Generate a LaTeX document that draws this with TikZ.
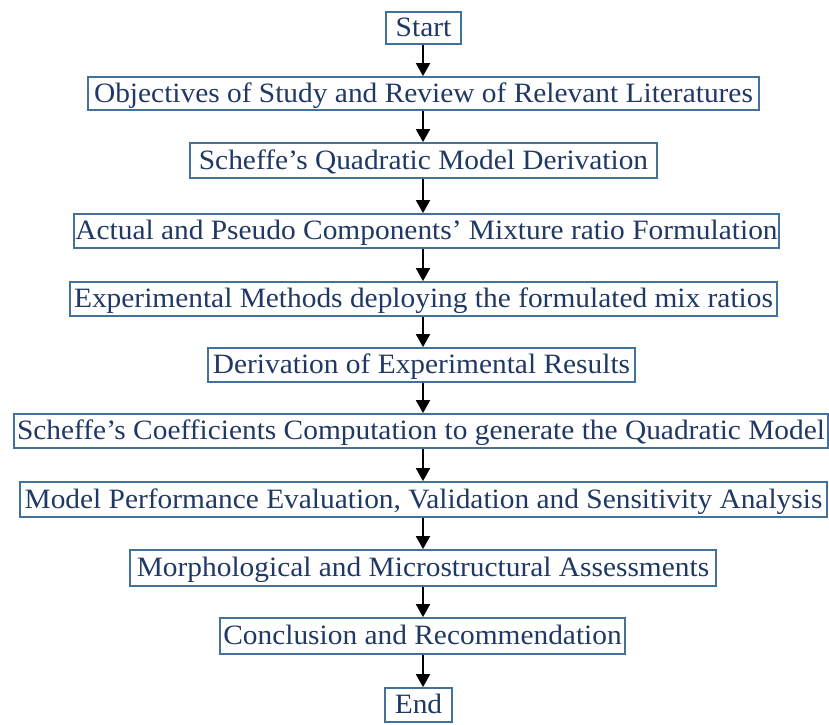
\documentclass[tikz,border=0pt]{standalone}
\usepackage{fontspec}
\setmainfont[FakeStretch=1.05]{Liberation Serif}
\usetikzlibrary{arrows.meta}
\definecolor{boxline}{RGB}{65,113,156}
\definecolor{boxtext}{RGB}{31,56,100}
\begin{document}
\begin{tikzpicture}[x=1pt,y=1pt,
  flowbox/.style={draw=boxline,line width=1.8pt,inner sep=0pt,text=boxtext,
    font=\fontsize{28}{32}\selectfont,text height=18.5pt,text depth=1pt,anchor=center},
  flowarrow/.style={draw=black,line width=1.9pt,-{Triangle[length=13pt,width=14pt]}}]
\useasboundingbox (0,0) rectangle (829,-724);
\def\mkbox#1#2#3#4#5#6{%
  \node[flowbox,minimum width={#4-#2},minimum height={#5-#3}] (#1) at ({(#2+#4)/2},{-(#3+#5)/2}) {#6};}
\mkbox{start}{386}{12}{461}{44}{Start}
\mkbox{obj}{88}{77}{759}{110}{Objectives of Study and Review of Relevant Literatures}
\mkbox{quad}{190}{143}{657}{178}{Scheffe’s Quadratic Model Derivation}
\mkbox{actual}{74}{214}{779}{248}{Actual and Pseudo Components’ Mixture ratio Formulation}
\mkbox{exper}{70}{282}{777}{316}{Experimental Methods deploying the formulated mix ratios}
\mkbox{deriv}{208}{348}{635}{382}{Derivation of Experimental Results}
\mkbox{coef}{14}{414}{828}{448}{Scheffe’s Coefficients Computation to generate the Quadratic Model}
\mkbox{perf}{20}{482}{827}{517}{Model Performance Evaluation, Validation and Sensitivity Analysis}
\mkbox{morph}{130}{550}{716}{586}{Morphological and Microstructural Assessments}
\mkbox{concl}{220}{618}{625}{654}{Conclusion and Recommendation}
\mkbox{end}{385}{688}{452}{722}{End}
\coordinate (ax) at (423,0);
\foreach \a/\b in {start/obj,obj/quad,quad/actual,actual/exper,exper/deriv,deriv/coef,coef/perf,perf/morph,morph/concl,concl/end}
  \draw[flowarrow] (\a.south -| ax) -- (\b.north -| ax);
\end{tikzpicture}
\end{document}
